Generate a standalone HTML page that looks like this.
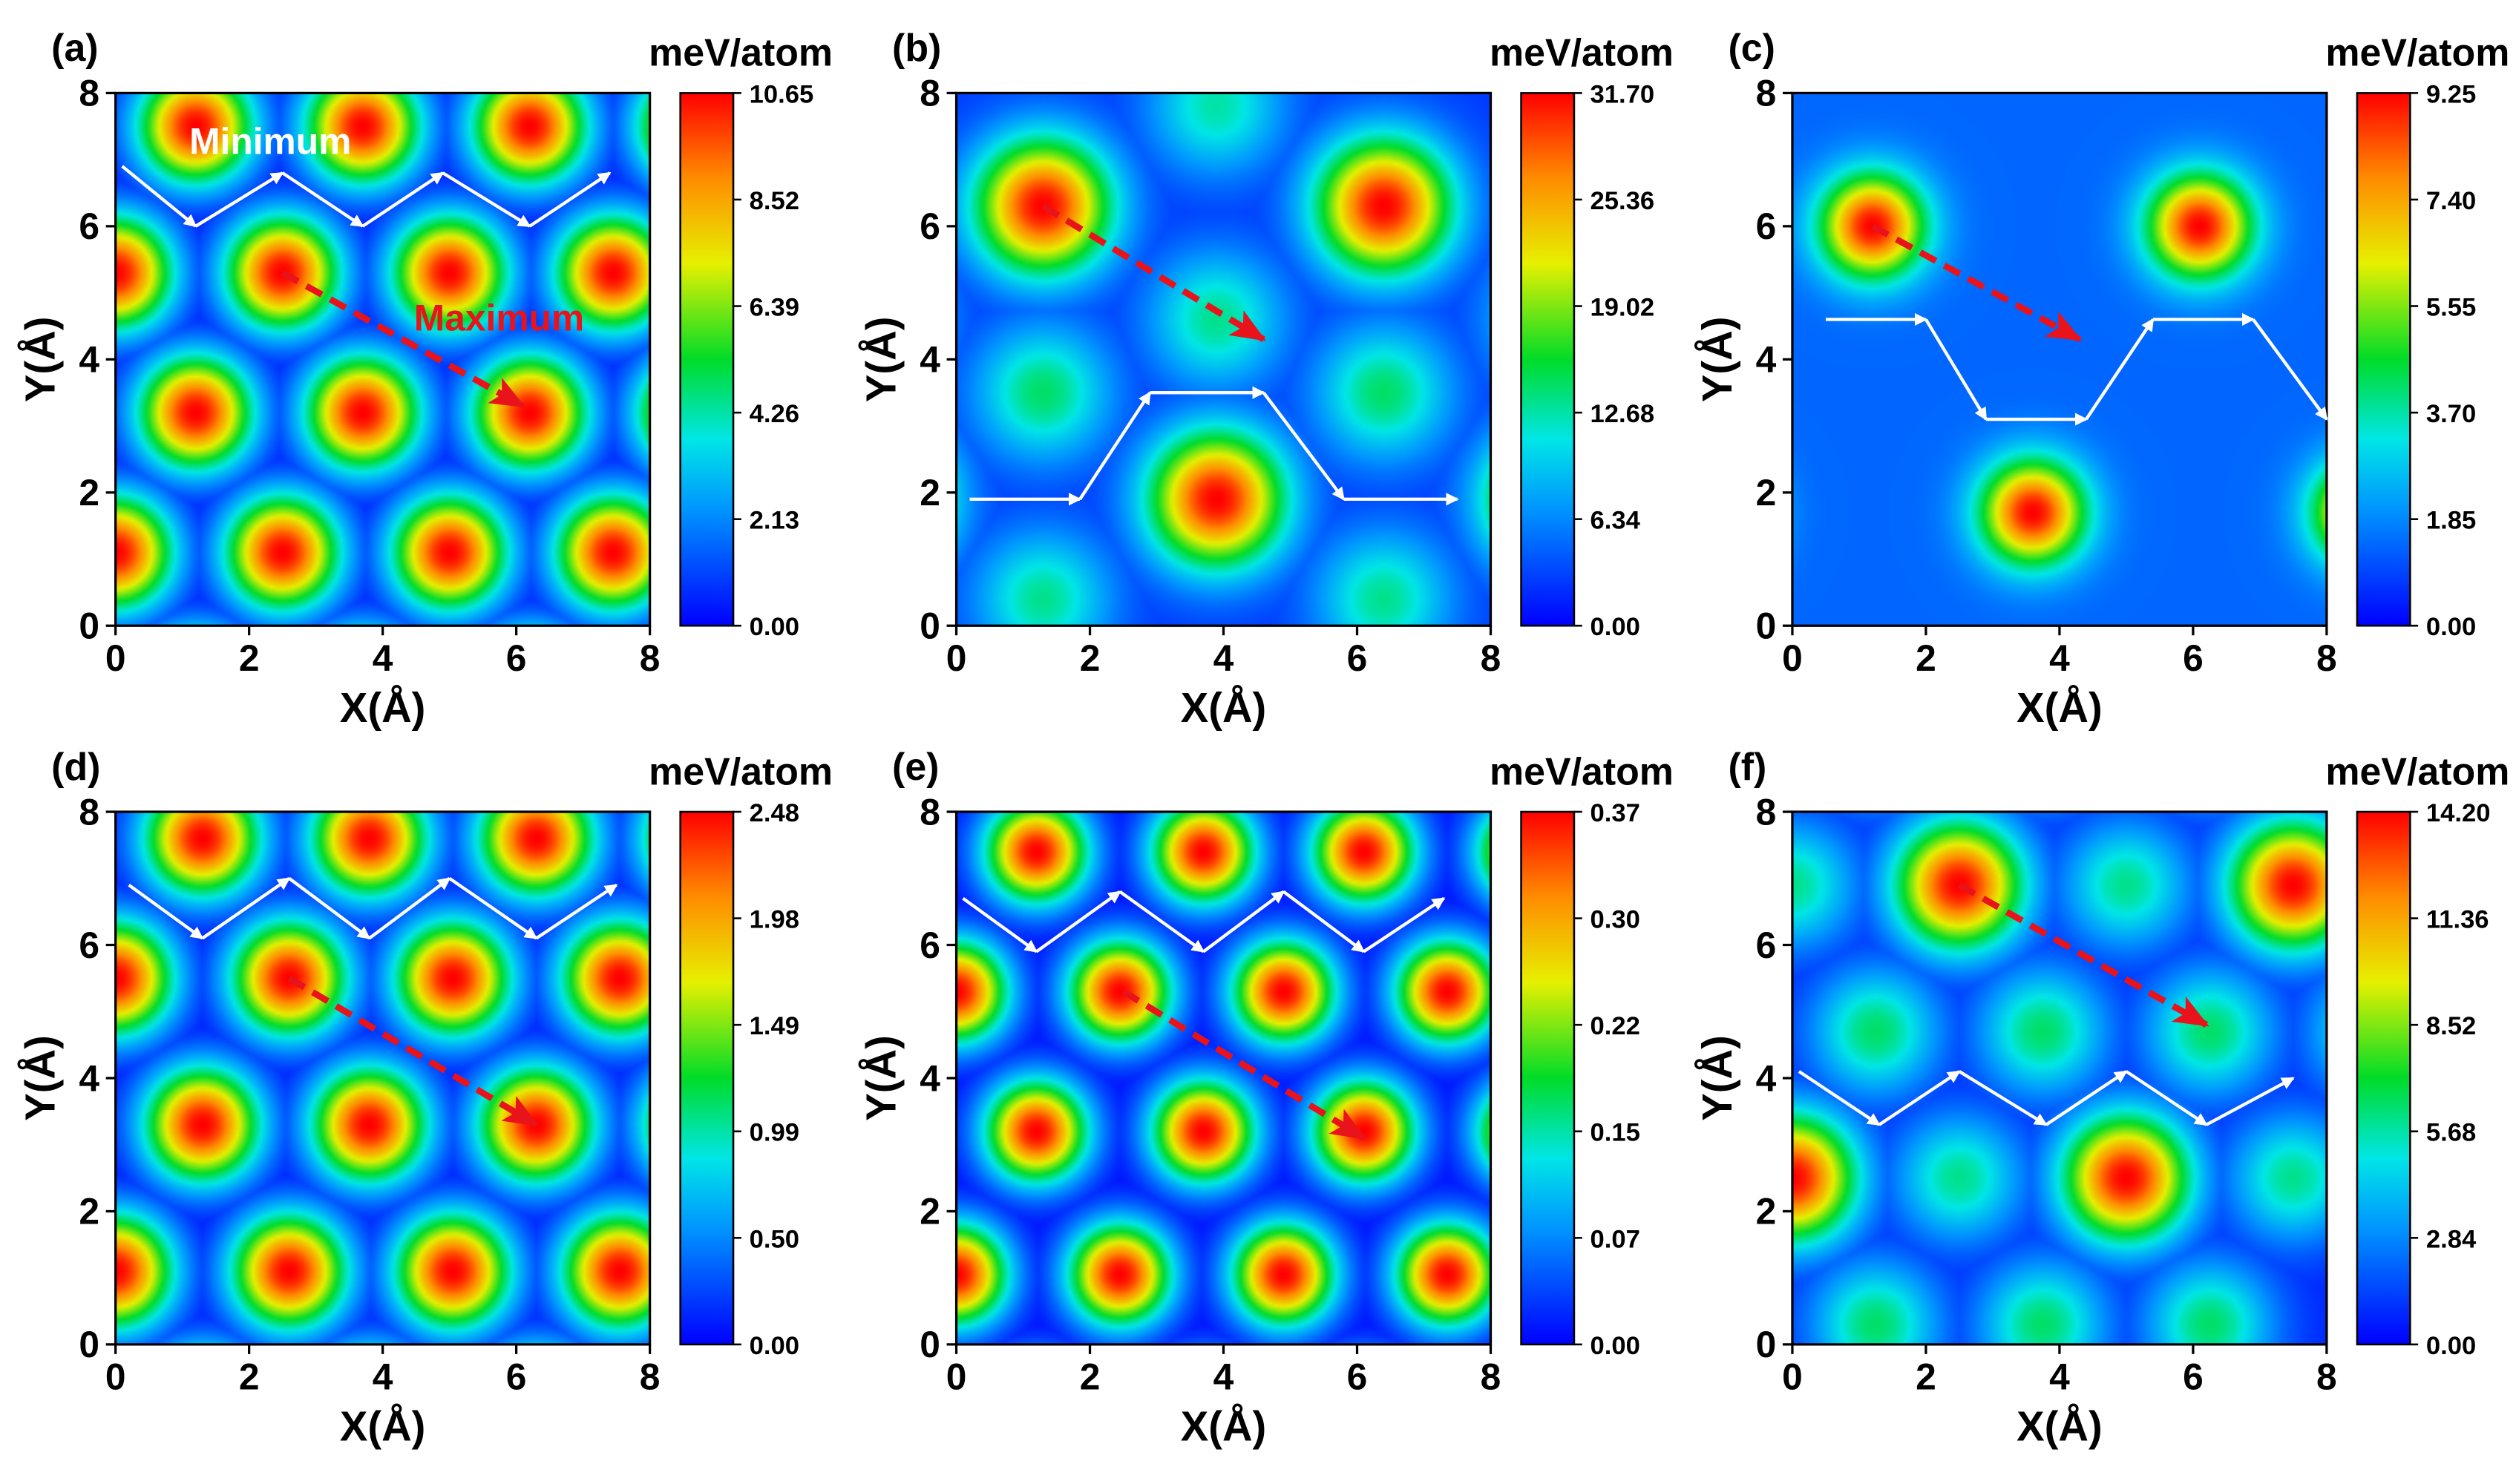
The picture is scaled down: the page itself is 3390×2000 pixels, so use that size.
<!DOCTYPE html>
<html><head><meta charset="utf-8">
<style>
html,body{margin:0;padding:0;background:#fff;width:3390px;height:2000px;overflow:hidden}
#wrap{position:absolute;left:0;top:0;width:1568px;height:925px;transform-origin:0 0;transform:scale(2.16199,2.16216);font-family:"Liberation Sans",Arial,sans-serif}
canvas{position:absolute}
svg{position:absolute;left:0;top:0}
</style></head>
<body>
<div id="wrap">
<svg id="ov" width="1568" height="925" viewBox="0 0 1568 925"></svg>
</div>
<script>
// ---- data ----
const panelLabels = ["(a)","(b)","(c)","(d)","(e)","(f)"];
const cbarA = ["0.00","2.13","4.26","6.39","8.52","10.65"];
const cbarB = ["0.00","6.34","12.68","19.02","25.36","31.70"];
const cbarC = ["0.00","1.85","3.70","5.55","7.40","9.25"];
const cbarD = ["0.00","0.50","0.99","1.49","1.98","2.48"];
const cbarE = ["0.00","0.07","0.15","0.22","0.30","0.37"];
const cbarF = ["0.00","2.84","5.68","8.52","11.36","14.20"];
const axisTicks = [0,2,4,6,8];
// peaks: [x, y, amplitude]
const peaksA = [[1.2,7.5,1],[3.7,7.5,1],[6.2,7.5,1],[0,5.3,1],[2.5,5.3,1],[5,5.3,1],[7.45,5.3,1],[1.2,3.2,1],[3.7,3.2,1],[6.2,3.2,1],[0,1.1,1],[2.5,1.1,1],[5,1.1,1],[7.45,1.1,1],[8.7,7.5,1],[8.7,3.2,1],[1.2,9.6,1],[3.7,9.6,1],[6.2,9.6,1],[1.2,-1,1],[3.7,-1,1],[6.2,-1,1],[9.9,5.3,1],[9.9,1.1,1]];
const peaksB = [[1.3,6.3,1],[6.4,6.3,1],[3.9,1.9,1],[1.3,3.5,0.45],[6.4,3.5,0.45],[3.9,4.6,0.42],[3.9,7.8,0.4],[1.3,0.4,0.42],[6.4,0.4,0.42],[9,1.9,1],[-1.2,1.9,1],[3.9,9.7,1],[9,4.6,0.42],[-1.2,4.6,0.42]];
const peaksC = [[1.2,6,1],[6.1,6,1],[3.6,1.7,1],[8.6,1.7,1],[-1.3,1.7,1],[3.6,10.3,1]];
const peaksD = [[1.3,7.6,1],[3.8,7.6,1],[6.3,7.6,1],[0,5.5,1],[2.6,5.5,1],[5.05,5.5,1],[7.55,5.5,1],[1.3,3.3,1],[3.8,3.3,1],[6.3,3.3,1],[0,1.1,1],[2.6,1.1,1],[5.05,1.1,1],[7.55,1.1,1],[8.8,7.6,1],[8.8,3.3,1],[1.3,9.7,1],[3.8,9.7,1],[6.3,9.7,1],[1.3,-1,1],[3.8,-1,1],[6.3,-1,1],[10,5.5,1],[10,1.1,1]];
const peaksE = [[1.2,7.4,1],[3.7,7.4,1],[6.1,7.4,1],[0,5.3,1],[2.45,5.3,1],[4.9,5.3,1],[7.35,5.3,1],[1.2,3.2,1],[3.7,3.2,1],[6.1,3.2,1],[0,1.05,1],[2.45,1.05,1],[4.9,1.05,1],[7.35,1.05,1],[8.6,7.4,1],[8.6,3.2,1],[1.2,9.5,1],[3.7,9.5,1],[6.1,9.5,1],[1.2,-1.1,1],[3.7,-1.1,1],[6.1,-1.1,1]];
const peaksF = [[2.5,6.9,1],[7.5,6.9,1],[5,2.5,1],[0,2.5,1],[0,6.9,0.42],[5,6.9,0.42],[1.25,4.7,0.45],[3.75,4.7,0.45],[6.25,4.7,0.45],[2.5,2.5,0.42],[7.5,2.5,0.42],[1.25,0.3,0.45],[3.75,0.3,0.45],[6.25,0.3,0.45],[8.75,4.7,0.45],[-1.25,4.7,0.45],[10,2.5,1],[2.5,11.3,1],[1.25,9.1,0.45],[3.75,9.1,0.45],[6.25,9.1,0.45]];
// white zigzag paths and red arrows (Å)
const whiteA = [[0.1,6.9],[1.2,6.0],[2.5,6.8],[3.7,6.0],[4.9,6.8],[6.2,6.0],[7.4,6.8]];
const whiteB = [[0.2,1.9],[1.85,1.9],[2.9,3.5],[4.6,3.5],[5.8,1.9],[7.5,1.9]];
const whiteC = [[0.5,4.6],[2.0,4.6],[2.9,3.1],[4.4,3.1],[5.4,4.6],[6.9,4.6],[8,3.1]];
const whiteD = [[0.2,6.9],[1.3,6.1],[2.6,7.0],[3.8,6.1],[5.0,7.0],[6.3,6.1],[7.5,6.9]];
const whiteE = [[0.1,6.7],[1.2,5.9],[2.45,6.8],[3.7,5.9],[4.9,6.8],[6.1,5.9],[7.3,6.7]];
const whiteF = [[0.1,4.1],[1.3,3.3],[2.5,4.1],[3.8,3.3],[5,4.1],[6.2,3.3],[7.5,4.0]];
const redA = [[2.5,5.3],[6.1,3.3]];
const redB = [[1.3,6.3],[4.6,4.3]];
const redC = [[1.2,6.0],[4.3,4.3]];
const redD = [[2.6,5.5],[6.3,3.3]];
const redE = [[2.5,5.3],[6.1,3.1]];
const redF = [[2.5,6.9],[6.2,4.8]];

const panels = [
 {ox:72, oy:58, peaks:peaksA, sig:0.62, base:0.0, cb:cbarA, white:whiteA, red:redA},
 {ox:596,oy:58, peaks:peaksB, sig:0.72, base:0.08, cb:cbarB, white:whiteB, red:redB},
 {ox:1117,oy:58,peaks:peaksC, sig:0.55, base:0.15, cb:cbarC, white:whiteC, red:redC},
 {ox:72, oy:506,peaks:peaksD, sig:0.62, base:0.0, cb:cbarD, white:whiteD, red:redD},
 {ox:596,oy:506,peaks:peaksE, sig:0.55, base:0.0, cb:cbarE, white:whiteE, red:redE},
 {ox:1117,oy:506,peaks:peaksF,sig:0.68, base:0.05,cb:cbarF, white:whiteF, red:redF}
];
const W=333, H=332;
const stops=[[0,[0,0,255]],[0.22,[0,150,255]],[0.35,[0,230,230]],[0.5,[0,220,40]],[0.68,[230,240,0]],[0.84,[255,140,0]],[1,[255,0,0]]];
function cmap(v){v=Math.max(0,Math.min(1,v));for(let i=1;i<stops.length;i++){if(v<=stops[i][0]){const a=stops[i-1],b=stops[i],t=(v-a[0])/(b[0]-a[0]);return a[1].map((c,k)=>Math.round(c+(b[1][k]-c)*t));}}return stops[stops.length-1][1];}
const wrap=document.getElementById('wrap');
const svg=document.getElementById('ov');
const NS='http://www.w3.org/2000/svg';
function mk(tag,attrs,parent){const e=document.createElementNS(NS,tag);for(const k in attrs)e.setAttribute(k,attrs[k]);(parent||svg).appendChild(e);return e;}
const defs=mk('defs',{});
const grad=mk('linearGradient',{id:'cg',x1:0,y1:1,x2:0,y2:0},defs);
for(const s of stops){mk('stop',{offset:s[0],'stop-color':'rgb('+s[1].join(',')+')'},grad);}
const mw=mk('marker',{id:'mw',markerWidth:8,markerHeight:8,refX:7,refY:4,orient:'auto',markerUnits:'userSpaceOnUse'},defs);
mk('path',{d:'M0,0 L8,4 L0,8 Z',fill:'#fff'},mw);
const mr=mk('marker',{id:'mr',markerWidth:22,markerHeight:18,refX:20,refY:9,orient:'auto',markerUnits:'userSpaceOnUse'},defs);
mk('path',{d:'M0,0 L22,9 L0,18 L5,9 Z',fill:'#e8131b'},mr);

panels.forEach((p,i)=>{
  const sx=x=>p.ox+x/8*W, sy=y=>p.oy+H-y/8*H;
  const cv=document.createElement('canvas');
  const N=200;cv.width=N;cv.height=N;
  cv.style.left=p.ox+'px';cv.style.top=p.oy+'px';cv.style.width=W+'px';cv.style.height=H+'px';
  
  
  wrap.insertBefore(cv,svg);
  const ctx=cv.getContext('2d');const img=ctx.createImageData(N,N);
  for(let r=0;r<N;r++)for(let c=0;c<N;c++){
    const x=(c+0.5)/N*8,y=8-(r+0.5)/N*8;let v=p.base;
    for(const pk of p.peaks){const dx=x-pk[0],dy=y-pk[1];const d=Math.sqrt(dx*dx+dy*dy)/p.sig;
      v=Math.max(v,p.base+(pk[2]-p.base)*Math.exp(-d*d*0.5));}
    const col=cmap(v);const o=(r*N+c)*4;img.data[o]=col[0];img.data[o+1]=col[1];img.data[o+2]=col[2];img.data[o+3]=255;}
  ctx.putImageData(img,0,0);
  const g=mk('g',{});
  
  
  mk('rect',{x:p.ox,y:p.oy,width:W,height:H,fill:'none',stroke:'#000','stroke-width':1.5},g);
  axisTicks.forEach(t=>{
    mk('line',{x1:sx(t),x2:sx(t),y1:p.oy+H,y2:p.oy+H+6,stroke:'#000','stroke-width':1.5},g);
    const tx=mk('text',{x:sx(t),y:p.oy+H+28,'text-anchor':'middle','font-size':23,'font-weight':'bold'},g);tx.textContent=t;
    mk('line',{x1:p.ox-6,x2:p.ox,y1:sy(t),y2:sy(t),stroke:'#000','stroke-width':1.5},g);
    const ty=mk('text',{x:p.ox-10,y:sy(t)+8,'text-anchor':'end','font-size':23,'font-weight':'bold'},g);ty.textContent=t;
  });
  const xt=mk('text',{x:p.ox+W/2,y:p.oy+H+60,'text-anchor':'middle','font-size':26,'font-weight':'bold'},g);xt.textContent='X(Å)';
  
  const yt=mk('text',{x:0,y:0,transform:'translate('+(p.ox-38)+','+(p.oy+H/2)+') rotate(-90)','text-anchor':'middle','font-size':26,'font-weight':'bold'},g);yt.textContent='Y(Å)';
  
  const pl=mk('text',{x:p.ox-40,y:p.oy-20,'font-size':24,'font-weight':'bold'},g);pl.textContent=panelLabels[i];
  
  const cx=p.ox+352,cw=33;
  mk('rect',{x:cx,y:p.oy,width:cw,height:H,fill:'url(#cg)',stroke:'#000','stroke-width':1.2},g);
  p.cb.forEach((lab,k)=>{const yy=p.oy+H-k/5*H;
    mk('line',{x1:cx+cw,x2:cx+cw+5,y1:yy,y2:yy,stroke:'#000','stroke-width':1.2},g);
    const t=mk('text',{x:cx+cw+10,y:yy+6,'font-size':16,'font-weight':'bold'},g);t.textContent=lab;});
  const un=mk('text',{x:cx+cw+62,y:p.oy-17,'text-anchor':'end','font-size':24,'font-weight':'bold'},g);un.textContent='meV/atom';
  
  for(let k=0;k<p.white.length-1;k++){
    const l=mk('line',{x1:sx(p.white[k][0]),y1:sy(p.white[k][1]),x2:sx(p.white[k+1][0]),y2:sy(p.white[k+1][1]),stroke:'#fff','stroke-width':2,'marker-end':'url(#mw)'},g);
    
  }
  const ra=mk('line',{x1:sx(p.red[0][0]),y1:sy(p.red[0][1]),x2:sx(p.red[1][0]),y2:sy(p.red[1][1]),stroke:'#e8131b','stroke-width':4,'stroke-dasharray':'11 6','marker-end':'url(#mr)'},g);
  
});
const tm=mk('text',{x:118,y:96,fill:'#fff','font-size':23,'font-weight':'bold'});tm.textContent='Minimum';

const tx=mk('text',{x:258,y:206,fill:'#e8131b','font-size':23,'font-weight':'bold'});tx.textContent='Maximum';

</script>
</body></html>
